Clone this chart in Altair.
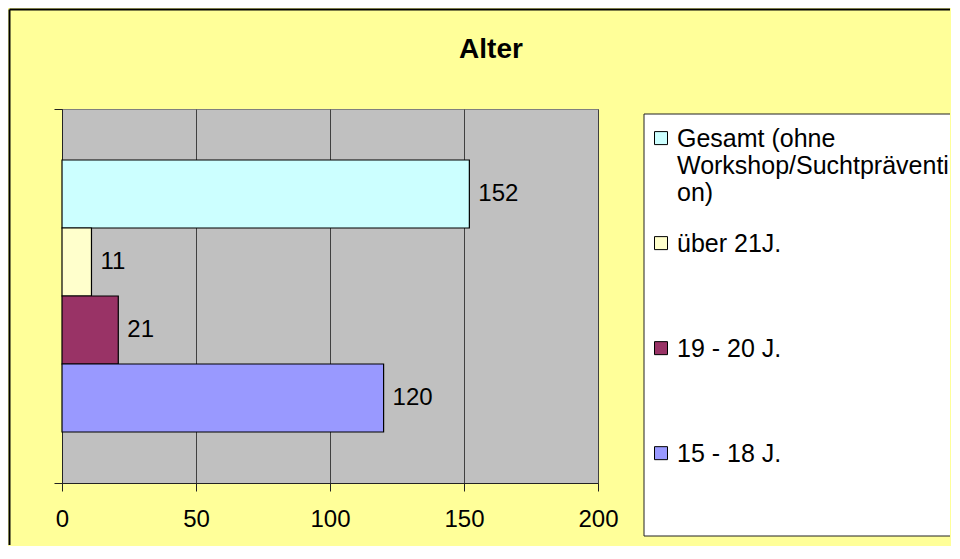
import altair as alt
import pandas as pd

# ---- data ----
series = ["Gesamt (ohne Workshop/Suchtprävention)", "über 21J.", "19 - 20 J.", "15 - 18 J."]
legend_labels = ["Gesamt (ohne\nWorkshop/Suchtpräventi\non)", "über 21J.", "19 - 20 J.", "15 - 18 J."]
values = [152, 11, 21, 120]
colors = ["#CCFFFF", "#FFFFCC", "#993366", "#9999FF"]
x_ticks = [0, 50, 100, 150, 200]
title_text = "Alter"

FONT = "Liberation Sans"

df = pd.DataFrame({
    "cat": [" "] * len(series),
    "series": series,
    "value": values,
    "label": legend_labels,
})

color_scale = alt.Scale(domain=series, range=colors)
base = alt.Chart(df)

y_enc = alt.Y("cat:N", title=None,
              scale=alt.Scale(paddingInner=0, paddingOuter=0),
              axis=alt.Axis(labels=False, ticks=True, tickBand="extent", tickSize=8,
                            domainColor="#222222", tickColor="#222222", grid=False,
                            domainWidth=1, tickWidth=1))
yoff_enc = alt.YOffset("series:N", sort=series,
                       scale=alt.Scale(paddingInner=0, paddingOuter=0.75))

bars = base.mark_bar(stroke="black", strokeWidth=1.2, opacity=1).encode(
    x=alt.X("value:Q", scale=alt.Scale(domain=[0, 200], nice=False),
            axis=alt.Axis(values=x_ticks, title=None, grid=True, gridColor="#404040",
                          gridWidth=1, domainColor="#222222", tickColor="#222222",
                          tickSize=8, labelPadding=16, labelFontSize=24,
                          labelFlush=False, labelColor="black", labelFont=FONT)),
    y=y_enc,
    yOffset=yoff_enc,
    color=alt.Color("series:N", scale=color_scale, legend=None),
)

labels = base.mark_text(align="left", baseline="middle", dx=9, fontSize=24,
                        font=FONT, color="black").encode(
    x=alt.X("value:Q"),
    y=alt.Y("cat:N"),
    yOffset=alt.YOffset("series:N", sort=series),
    text=alt.Text("value:Q"),
)

main = alt.layer(bars, labels).properties(
    width=536, height=374,
    view=alt.ViewBackground(fill="#C0C0C0", stroke="#808080", strokeWidth=1),
    title=alt.TitleParams(title_text, fontSize=28, font=FONT, fontWeight="bold",
                          dx=161, offset=23, baseline="alphabetic",
                          anchor="middle", color="black"),
)

# ---- legend panel (drawn from the same series through its own point scale) ----
leg_y = alt.Y("series:N", sort=series, axis=None,
              scale=alt.Scale(type="point", padding=0.533, align=0.26))

swatch = base.mark_square(size=169, stroke="black", strokeWidth=1, opacity=1).encode(
    x=alt.value(17),
    y=leg_y,
    color=alt.Color("series:N", scale=color_scale, legend=None),
)
leg_text = base.mark_text(align="left", baseline="alphabetic", dy=8.5, fontSize=25,
                          font=FONT, lineBreak="\n", lineHeight=27,
                          color="black").encode(
    x=alt.value(33),
    y=leg_y,
    text=alt.Text("label:N"),
)

one = alt.Data(values=[{"f": 0}])
# legend box: white area with left, top and bottom edges (right edge runs off the picture)
box_fill = alt.Chart(one).mark_rect(fill="white", stroke="transparent").encode(
    x=alt.value(0), x2=alt.value(306), y=alt.value(5), y2=alt.value(427))
box_l = alt.Chart(one).mark_rule(color="#222222", strokeWidth=1).encode(
    x=alt.value(0), y=alt.value(5), y2=alt.value(427))
box_b = alt.Chart(one).mark_rule(color="#222222", strokeWidth=1).encode(
    x=alt.value(0), x2=alt.value(306), y=alt.value(427))
box_t = alt.Chart(one).mark_rule(color="#222222", strokeWidth=1).encode(
    x=alt.value(0), x2=alt.value(306), y=alt.value(5))
# chart frame (top and left edges of the chart area)
frame_v = alt.Chart(one).mark_rule(color="black", strokeWidth=2).encode(
    x=alt.value(-634.5), y=alt.value(-99.5), y2=alt.value(436))
frame_h = alt.Chart(one).mark_rule(color="black", strokeWidth=2).encode(
    y=alt.value(-99.5), x=alt.value(-634.5), x2=alt.value(306))

legend = alt.layer(frame_v, frame_h, box_fill, box_l, box_b, box_t, swatch, leg_text).properties(
    width=306, height=427,
    view=alt.ViewBackground(fill="transparent", stroke="transparent", strokeWidth=0),
)

chart = alt.hconcat(main, legend, spacing=46, bounds="flush", padding=0).resolve_scale(
    x="independent", y="independent", yOffset="independent"
).configure(
    background="#FFFF99", font=FONT
)

chart.save("out.html", embed_options={"renderer": "svg", "actions": False})
